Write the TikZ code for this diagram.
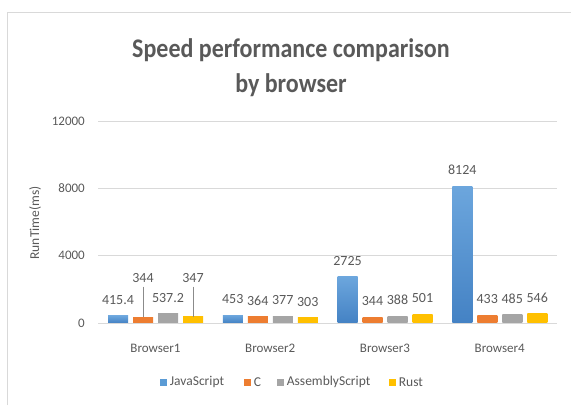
\documentclass[tikz,border=0pt]{standalone}
\usepackage{fontspec}
\setmainfont{Carlito}
\usetikzlibrary{positioning}
\definecolor{jstop}{RGB}{108,166,221}
\definecolor{jsbot}{RGB}{68,130,196}
\definecolor{jsblue}{RGB}{91,155,213}
\definecolor{corange}{RGB}{237,125,49}
\definecolor{asgray}{RGB}{165,165,165}
\definecolor{rustyellow}{RGB}{255,192,0}
\definecolor{txtgray}{RGB}{89,89,89}
\definecolor{gridgray}{RGB}{217,217,217}
\begin{document}
\begin{tikzpicture}[x=1pt,y=-1pt,
    bar/.style={inner sep=0pt,minimum width=20pt,anchor=south},
    vlabel/.style={text=txtgray,inner sep=1pt,font=\fontsize{14}{15}\selectfont},
    tick/.style={text=txtgray,anchor=east,inner sep=1pt,font=\fontsize{13}{15}\selectfont},
    grid/.style={draw=gridgray,line width=0.9pt},
    legsq/.style={inner sep=0pt,minimum size=7pt},
    legtext/.style={text=txtgray,inner sep=0pt,font=\fontsize{13.5}{15}\selectfont}]
    \useasboundingbox (0,0) rectangle (571,405);
    % outer frame
    \draw[gridgray] (7,405) -- (7,12) -- (571,12);
    % title
    \node[text=txtgray,align=center,font=\bfseries\fontsize{24}{35}\selectfont] (title) at (291,68) {\scalebox{1}[1.12]{Speed performance comparison}\\\scalebox{1}[1.12]{by browser}};
    % axis and grid
    \foreach \t in {0,4000,8000,12000}{
        \pgfmathsetmacro\yy{323-\t*0.016825}
        \node[tick] (t\t) at (86,\yy) {\t};
        \coordinate (gs\t) at (98,\yy);
        \coordinate (ge\t) at (557,\yy);
        \draw[grid] (gs\t) -- (ge\t);
    }
    \node[text=txtgray,rotate=90,font=\fontsize{13.5}{15}\selectfont] (ytitle) at (35,223) {RunTime(ms)};
    % bars and data labels
    \foreach \i/\a/\b/\c/\d in {1/415.4/344/537.2/347, 2/453/364/377/303, 3/2725/344/388/501, 4/8124/433/485/546}{
        \pgfmathsetmacro\cx{155.5+114.75*(\i-1)}
        \foreach \j/\v/\ct/\cb in {1/\a/jstop/jsbot, 2/\b/corange/corange, 3/\c/asgray/asgray, 4/\d/rustyellow/rustyellow}{
            \node[bar,top color=\ct,bottom color=\cb,minimum height={\v*0.016825}] (b\i\j) at ({\cx+(\j-2.5)*25},323) {};
            \pgfmathsetmacro\up{(\i==1 && (\j==2 || \j==4)) ? 39 : 16}
            \node[vlabel] (l\i\j) at ([yshift=\up pt]b\i\j.north) {\v};
        }
        \node[text=txtgray,font=\fontsize{13}{15}\selectfont] (cat\i) at (\cx,348) {Browser\i};
    }
    \draw[grid] (gs0) -- (ge0);
    % leader lines
    \draw[txtgray!70,line width=0.6pt,shorten <=3pt] (l12.south) -- (b12.north);
    \draw[txtgray!70,line width=0.6pt,shorten <=3pt] (l14.south) -- (b14.north);
    % legend
    \node[legsq,fill=jsblue] (kjs) at (163,382) {};
    \node[legtext,right=3pt of kjs] (njs) {JavaScript};
    \node[legsq,fill=corange] (kc) at (247,382) {};
    \node[legtext,right=3pt of kc] (nc) {C};
    \node[legsq,fill=asgray] (kas) at (280,382) {};
    \node[legtext,right=3pt of kas] (nas) {AssemblyScript};
    \node[legsq,fill=rustyellow] (krs) at (392,382) {};
    \node[legtext,right=3pt of krs] (nrs) {Rust};
\end{tikzpicture}
\end{document}
